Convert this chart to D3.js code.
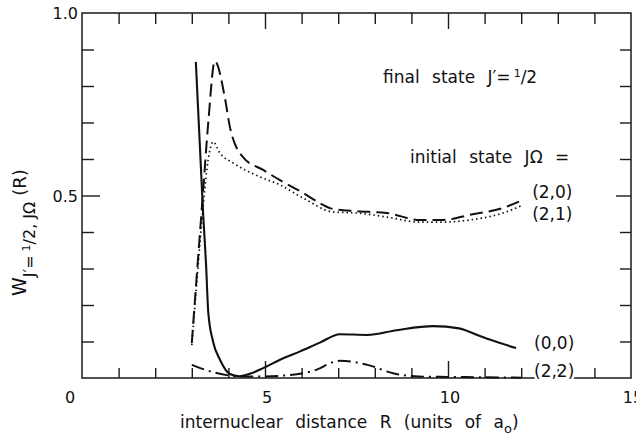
<!DOCTYPE html>
<html>
<head>
<meta charset="utf-8">
<script src="https://cdn.jsdelivr.net/npm/d3@7"></script>
<style>
  body { margin: 0; background: #fff; }
  svg { display: block; }
  text { font-family: "DejaVu Sans", sans-serif; fill: #111; }
  .frame { fill: none; stroke: #1a1a1a; stroke-width: 1.5; }
  .tick line { stroke: #1a1a1a; stroke-width: 1.4; }
  .curve { fill: none; stroke: #111; }
  .slab { stroke: #fff; stroke-width: 5px; paint-order: stroke; stroke-linejoin: round; }
</style>
</head>
<body>
<script>
// (0,0) solid
var r00 = [3.11, 3.31, 3.39, 3.45, 3.58, 3.77, 4.04, 4.3, 4.6, 4.95, 5.41, 5.96, 6.5, 7.05, 7.79, 8.6, 9.6, 10.3, 10.8, 11.3, 11.86];
var w00 = [0.866, 0.45, 0.31, 0.18, 0.10, 0.05, 0.011, 0.005, 0.012, 0.027, 0.05, 0.073, 0.097, 0.12, 0.118, 0.131, 0.142, 0.136, 0.118, 0.1, 0.082];
// (2,0) dashed
var r20 = [3.0, 3.15, 3.3, 3.45, 3.63, 3.9, 4.04, 4.4, 4.95, 5.41, 6.04, 6.5, 6.86, 7.5, 8.33, 9.23, 9.86, 10.6, 11.5, 12.05];
var w20 = [0.096, 0.3, 0.5, 0.7, 0.868, 0.77, 0.688, 0.605, 0.57, 0.542, 0.507, 0.479, 0.463, 0.457, 0.452, 0.433, 0.433, 0.447, 0.466, 0.488];
// (2,1) dotted
var r21 = [3.0, 3.15, 3.3, 3.45, 3.58, 3.77, 4.13, 4.86, 5.41, 6.04, 6.86, 7.5, 8.33, 9.23, 9.86, 10.6, 11.5, 12.05];
var w21 = [0.09, 0.28, 0.46, 0.6, 0.647, 0.616, 0.589, 0.551, 0.529, 0.493, 0.455, 0.452, 0.441, 0.427, 0.427, 0.433, 0.452, 0.474];
// (2,2) dash-dot
var r22 = [3.0, 3.58, 4.23, 4.8, 5.4, 6.3, 7.05, 7.8, 8.5, 9.2, 10, 11, 12];
var w22 = [0.036, 0.016, 0.005, 0.004, 0.006, 0.019, 0.047, 0.036, 0.013, 0.004, 0.003, 0.002, 0.001];

var xMinor = [1, 2, 3, 4, 6, 7, 8, 9, 11, 12, 13, 14];
var xMajor = [5, 10];
var xLabels = [5, 10, 15];
var yMinor = [0.1, 0.2, 0.3, 0.4, 0.6, 0.7, 0.8, 0.9];
var yMajor = [0.5];
var yLabels = [0.5, 1.0];

var seriesNames = ["(2,0)", "(2,1)", "(0,0)", "(2,2)"];
var labelR = [12.3, 12.3, 12.35, 12.35];
var labelW = [0.493, 0.433, 0.08, 0.004];

var width = 636, height = 440;

var x = d3.scaleLinear().domain([0, 15]).range([82, 631]);
var y = d3.scaleLinear().domain([0, 1]).range([378, 13]);

var svg = d3.select("body").append("svg")
    .attr("width", width)
    .attr("height", height);

// ticks (all pointing inward)
function axisG(axis, tx, ty) {
  var g = svg.append("g")
      .attr("transform", "translate(" + tx + "," + ty + ")")
      .call(axis);
  g.select(".domain").remove();
  g.selectAll("text").remove();
  return g;
}
axisG(d3.axisBottom(x).tickValues(xMinor).tickSize(-10), 0, y(0));
axisG(d3.axisBottom(x).tickValues(xMajor).tickSize(-17), 0, y(0));
axisG(d3.axisTop(x).tickValues(xMinor).tickSize(-11), 0, y(1));
axisG(d3.axisTop(x).tickValues(xMajor).tickSize(-16), 0, y(1));
axisG(d3.axisLeft(y).tickValues(yMinor).tickSize(-12), x(0), 0);
axisG(d3.axisLeft(y).tickValues(yMajor).tickSize(-18), x(0), 0);
axisG(d3.axisRight(y).tickValues(yMinor).tickSize(-11), x(15), 0);
axisG(d3.axisRight(y).tickValues(yMajor).tickSize(-15), x(15), 0);

svg.append("rect")
    .attr("class", "frame")
    .attr("x", x(0))
    .attr("y", y(1))
    .attr("width", x(15) - x(0))
    .attr("height", y(0) - y(1));

// tick labels
svg.selectAll(".xlab")
    .data(xLabels)
  .enter().append("text")
    .attr("class", "xlab")
    .attr("x", function(d) { return x(d) + 2; })
    .attr("y", y(0) + 25)
    .style("text-anchor", "middle")
    .style("font-size", "16px")
    .text(function(d) { return d; });

svg.append("text")
    .attr("x", x(0) - 12)
    .attr("y", y(0) + 25)
    .style("text-anchor", "middle")
    .style("font-size", "16px")
    .text("0");

svg.selectAll(".ylab")
    .data(yLabels)
  .enter().append("text")
    .attr("class", "ylab")
    .attr("x", x(0) - 4)
    .attr("y", function(d) { return y(d) + 6; })
    .style("text-anchor", "end")
    .style("font-size", "16px")
    .text(function(d) { return d.toFixed(1); });

// curves
var line = d3.line()
    .x(function(d) { return x(d[0]); })
    .y(function(d) { return y(d[1]); })
    .curve(d3.curveMonotoneX);

function pairs(r, w) { return r.map(function(v, i) { return [v, w[i]]; }); }

svg.append("path").datum(pairs(r20, w20))
    .attr("class", "curve")
    .attr("d", line)
    .attr("stroke-width", 2)
    .attr("stroke-dasharray", "13,6");

svg.append("path").datum(pairs(r21, w21))
    .attr("class", "curve")
    .attr("d", line)
    .attr("stroke-width", 1.7)
    .attr("stroke-dasharray", "1.5,3");

svg.append("path").datum(pairs(r22, w22))
    .attr("class", "curve")
    .attr("d", line)
    .attr("stroke-width", 2)
    .attr("stroke-dasharray", "13,5,2,5");

svg.append("path").datum(pairs(r00, w00))
    .attr("class", "curve")
    .attr("d", line)
    .attr("stroke-width", 2.1);

// series labels
svg.selectAll(".slab")
    .data(seriesNames)
  .enter().append("text")
    .attr("class", "slab")
    .attr("x", function(d, i) { return x(labelR[i]); })
    .attr("y", function(d, i) { return y(labelW[i]); })
    .style("font-size", "17px")
    .text(function(d) { return d; });

// annotations
var t1 = svg.append("text")
    .attr("x", 383)
    .attr("y", 83)
    .style("font-size", "17px")
    .style("word-spacing", "7px");
t1.append("tspan").text("final state J\u2032=");
t1.append("tspan").attr("dy", -6).attr("dx", 3).style("font-size", "11px").text("1");
t1.append("tspan").attr("dy", 6).text("/2");

svg.append("text")
    .attr("x", 410)
    .attr("y", 163)
    .style("font-size", "17px")
    .style("word-spacing", "7px")
    .text("initial state  J\u03A9 =");

// axis titles
var xt = svg.append("text")
    .attr("x", 180)
    .attr("y", 428)
    .style("font-size", "17px")
    .style("word-spacing", "7px");
xt.append("tspan").text("internuclear distance R (units of a");
xt.append("tspan").attr("dy", 5).style("font-size", "13px").text("o");
xt.append("tspan").attr("dy", -5).text(")");

var yt = svg.append("text")
    .attr("transform", "translate(26,296) rotate(-90)")
    .style("font-size", "19px");
yt.append("tspan").text("W");
yt.append("tspan").attr("dy", 9).style("font-size", "16px").text("J\u2032=");
yt.append("tspan").attr("dy", -5).attr("dx", 4).style("font-size", "11px").text("1");
yt.append("tspan").attr("dy", 5).style("font-size", "16px").text("/2, J\u03A9");
yt.append("tspan").attr("dy", -9).attr("dx", 6).style("font-size", "18px").text("(R)");
</script>
</body>
</html>
